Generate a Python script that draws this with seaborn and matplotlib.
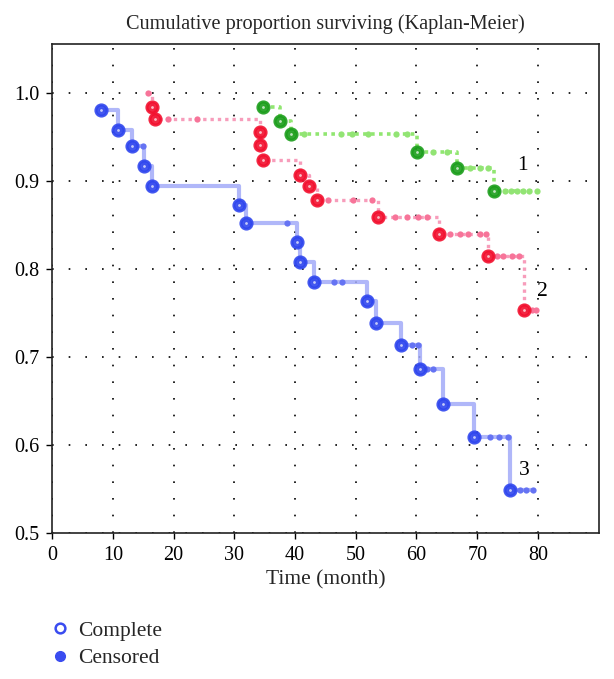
"""Kaplan-Meier: кумулятивная доля выживших по трём группам."""
import matplotlib
matplotlib.use("Agg")
import matplotlib.pyplot as plt
from matplotlib.lines import Line2D
import numpy as np
import pandas as pd
import seaborn as sns

# --- данные ---
blue_event_t = [8.1, 10.9, 13.2, 15.1, 16.5, 30.7, 32.0, 40.4, 40.8, 43.1,
                51.8, 53.3, 57.4, 60.6, 64.4, 69.5, 75.4]
blue_event_s = [0.980, 0.958, 0.939, 0.917, 0.894, 0.872, 0.852, 0.830, 0.808,
                0.785, 0.763, 0.738, 0.714, 0.686, 0.647, 0.609, 0.549]
blue_cens_t = [14.9, 38.6, 46.4, 47.8, 59.2, 60.3, 61.8, 62.8, 72.1, 73.6,
               75.0, 77.0, 78.1, 79.2]

red_event_t = [16.5, 16.9, 34.3, 34.3, 34.7, 40.8, 42.3, 43.6, 53.7, 63.7, 71.7, 77.7]
red_event_s = [0.984, 0.970, 0.955, 0.940, 0.923, 0.907, 0.894, 0.878, 0.859,
               0.840, 0.814, 0.753]
red_cens_t = [15.8, 19.1, 23.8, 45.5, 49.6, 52.6, 56.4, 58.4, 60.3, 61.7, 65.5,
              67.1, 68.5, 70.4, 71.4, 73.2, 74.3, 75.7, 76.8, 79.0, 79.7]

green_event_t = [34.8, 37.6, 39.4, 60.1, 66.7, 72.8]
green_event_s = [0.984, 0.968, 0.953, 0.933, 0.914, 0.888]
green_cens_t = [41.5, 47.6, 49.3, 52.0, 56.7, 58.4, 62.8, 65.0, 68.8, 70.4,
                71.8, 74.5, 75.5, 76.5, 77.5, 78.5, 79.8]

group_labels = ["1", "2", "3"]
label_pos = [(77.5, 0.917), (80.8, 0.774), (77.7, 0.571)]

x_ticks = [0, 10, 20, 30, 40, 50, 60, 70, 80]
y_ticks = [0.5, 0.6, 0.7, 0.8, 0.9, 1.0]

sns.set_theme(style="white")
plt.rcParams["font.family"] = ["Liberation Serif", "DejaVu Serif"]


def surv_at(t, ev_t, ev_s):
    """Значение ступенчатой функции выживаемости в момент t."""
    idx = np.searchsorted(ev_t, t, side="right") - 1
    return 1.0 if idx < 0 else ev_s[idx]


def step_frame(ev_t, ev_s, cens_t):
    t = list(ev_t)
    s = list(ev_s)
    # начало: цензурированная точка раньше первого события
    if cens_t[0] < ev_t[0]:
        t = [cens_t[0]] + t
        s = [1.0] + s
    # хвост до последнего наблюдения
    t.append(cens_t[-1])
    s.append(ev_s[-1])
    return pd.DataFrame({"t": t, "s": s})


groups = [
    dict(ev_t=green_event_t, ev_s=green_event_s, cens=green_cens_t,
         line="#85e462", mark="#1c9e1c", cmark="#92e474", ls=(0, (1, 1.2)), lw=2.6, alpha=0.9),
    dict(ev_t=red_event_t, ev_s=red_event_s, cens=red_cens_t,
         line="#f792b4", mark="#f2102e", cmark="#f77499", ls=(0, (1, 1.2)), lw=2.4, alpha=0.9),
    dict(ev_t=blue_event_t, ev_s=blue_event_s, cens=blue_cens_t,
         line="#a3abf8", mark="#2f46ee", cmark="#6573f3", ls="-", lw=3.0, alpha=0.85),
]

fig = plt.figure(figsize=(6.14, 6.79), dpi=100)
ax = fig.add_axes([0.085, 0.215, 0.89, 0.72])

for g in groups:
    df = step_frame(g["ev_t"], g["ev_s"], g["cens"])
    sns.lineplot(data=df, x="t", y="s", ax=ax, estimator=None, sort=False,
                 drawstyle="steps-post", color=g["line"], linewidth=g["lw"],
                 linestyle=g["ls"], alpha=g["alpha"], zorder=2)
    cens_s = [surv_at(t, g["ev_t"], g["ev_s"]) for t in g["cens"]]
    ax.plot(g["cens"], cens_s, "o", ms=4.5, color=g["cmark"], mec="none", zorder=3)
    ax.plot(g["ev_t"], g["ev_s"], "o", ms=8, mfc=g["mark"], mec=g["mark"],
            mew=2.2, alpha=0.9, zorder=4)
    ax.plot(g["ev_t"], g["ev_s"], "o", ms=2.0, color="white", mec="none",
            alpha=0.7, zorder=5)

for lab, (lx, ly) in zip(group_labels, label_pos):
    ax.text(lx, ly, lab, fontsize=15.5, ha="center", va="center", color="black")

ax.set_xlim(0, 90)
ax.set_ylim(0.5, 1.055)
ax.set_xticks(x_ticks)
ax.set_yticks(y_ticks)
ax.set_yticklabels([f"{v:.1f}" for v in y_ticks])
ax.tick_params(axis="both", labelsize=14.5, length=4, width=1, direction="out",
               color="black", labelcolor="black", bottom=True, left=True, pad=5)
ax.grid(True, color="black", linestyle=(0, (1, 9)), linewidth=1.2)
for sp in ax.spines.values():
    sp.set_color("#222222")
    sp.set_linewidth(1.2)

ax.set_title("Cumulative proportion surviving (Kaplan-Meier)", fontsize=14.6, pad=11)
ax.set_xlabel("Time (month)", fontsize=15.5, labelpad=4)
ax.set_ylabel("")

handles = [
    Line2D([], [], marker="o", ls="none", ms=7, mfc="white", mec="#3a4cf0", mew=1.8),
    Line2D([], [], marker="o", ls="none", ms=7, mfc="#3a4cf0", mec="#3a4cf0"),
]
fig.legend(handles, ["Complete", "Censored"], loc="upper left",
           bbox_to_anchor=(0.062, 0.102), frameon=False, fontsize=15.5,
           handletextpad=0.35, labelspacing=0.35, borderpad=0, handlelength=1.0)

fig.savefig("out.png", dpi=100)
